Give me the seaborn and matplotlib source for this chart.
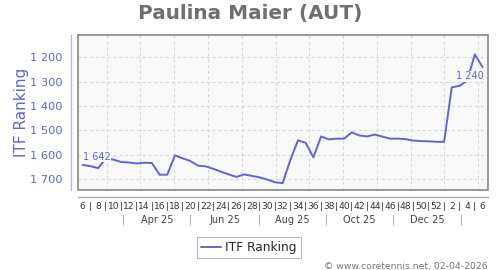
import matplotlib
matplotlib.use("Agg")
import matplotlib.pyplot as plt
from matplotlib.patches import Rectangle
import seaborn as sns
import pandas as pd

# ---- data ----
week_numbers = [6, 7, 8, 9, 10, 11, 12, 13, 14, 15, 16, 17, 18, 19, 20, 21, 22, 23, 24, 25,
                26, 27, 28, 29, 30, 31, 32, 33, 34, 35, 36, 37, 38, 39, 40, 41, 42, 43, 44, 45,
                46, 47, 48, 49, 50, 51, 52, 1, 2, 3, 4, 5, 6]
itf_ranking = [1642, 1647, 1655, 1616, 1620, 1630, 1632, 1636, 1633, 1634,
               1682, 1682, 1603, 1615, 1626, 1645, 1648, 1658, 1670, 1681,
               1691, 1681, 1687, 1693, 1702, 1713, 1717, 1622, 1541, 1551,
               1611, 1525, 1537, 1534, 1534, 1508, 1521, 1525, 1517, 1526,
               1534, 1534, 1536, 1542, 1544, 1545, 1547, 1547, 1323, 1317,
               1296, 1188, 1240]
month_labels = ["Apr 25", "Jun 25", "Aug 25", "Oct 25", "Dec 25"]
y_ticks = [1200, 1300, 1400, 1500, 1600, 1700]
title = "Paulina Maier (AUT)"
series_name = "ITF Ranking"
footer = "\u00a9 www.coretennis.net, 02-04-2026"

# ---- styling ----
LINE = "#6464CC"
BG = "#F8F8F8"

sns.set_theme(style="white", rc={"axes.facecolor": BG})
plt.rcParams["font.family"] = ["DejaVu Sans"]

df = pd.DataFrame({"idx": range(len(itf_ranking)), "rank": itf_ranking})

fig = plt.figure(figsize=(5, 2.7), dpi=100)
ax = fig.add_axes([0.156, 0.2963, 0.8194, 0.5741])
ax.set_facecolor(BG)

sns.lineplot(data=df, x="idx", y="rank", ax=ax, color=LINE, linewidth=1.4,
             label=series_name, legend=False)

ax.set_xlim(-0.61, 52.67)
ax.set_ylim(1745, 1108)

# grid
ax.set_yticks(y_ticks)
ax.set_yticklabels([f"{v:,}".replace(",", " ") for v in y_ticks])
for v in y_ticks:
    ax.axhline(v, color="#D6D6D6", lw=0.7, ls=(0, (3, 3)), zorder=0)
for k in range(12):
    ax.axvline(3.12 + 4.393 * k, color="#D6D6D6", lw=0.7, ls=(0, (3, 3)), zorder=0)

# x ticks: week numbers
ax.set_xticks(range(len(week_numbers)))
ax.set_xticklabels([str(w) if w % 2 == 0 else "|" for w in week_numbers])
ax.tick_params(axis="x", length=0, pad=4, labelsize=6.6, colors="#333333")
ax.tick_params(axis="y", length=0, pad=6, labelsize=8.2, colors=LINE)
ax.set_xlabel("")
ax.set_ylabel(series_name, color=LINE, fontsize=11, labelpad=1)

# spines
for s in ["top", "right"]:
    ax.spines[s].set_visible(False)
ax.spines["left"].set_position(("outward", 5))
ax.spines["left"].set_color("#B4B4E0")
ax.spines["left"].set_linewidth(1.0)
ax.spines["bottom"].set_position(("outward", 5))
ax.spines["bottom"].set_color("#AAAAAA")
ax.spines["bottom"].set_linewidth(1.0)
ax.add_patch(Rectangle((0, 0), 1, 1, transform=ax.transAxes, fill=False,
                       edgecolor="#888888", lw=1.2, clip_on=False, zorder=5))

# month row
seps = [5.28, 14.04, 22.93, 31.64, 40.39, 49.19]
tr = ax.get_xaxis_transform()
for s in seps:
    ax.text(s, -0.195, "|", transform=tr, ha="center", va="center",
            fontsize=7, color="#999999")
for i, lab in enumerate(month_labels):
    ax.text((seps[i] + seps[i + 1]) / 2, -0.195, lab, transform=tr,
            ha="center", va="center", fontsize=7, color="#444444")

# point labels
first, last = itf_ranking[0], itf_ranking[-1]
ax.annotate(f"{first:,}".replace(",", " "), (0, first), xytext=(0, 8),
            textcoords="offset pixels", ha="left", va="center", fontsize=7,
            color=LINE, bbox=dict(facecolor=BG, edgecolor="none", pad=0.3))
ax.annotate(f"{last:,}".replace(",", " "), (len(itf_ranking) - 1, last),
            xytext=(1, -9), textcoords="offset pixels", ha="right", va="center",
            fontsize=7, color=LINE,
            bbox=dict(facecolor=BG, edgecolor="none", pad=0.3))

# title
fig.text(0.5, 1 - 13 / 270, title, ha="center", va="center", fontsize=14.4,
         fontweight="bold", color="#707070")

# legend
handle = plt.Line2D([], [], color=LINE, lw=1.4)
leg = fig.legend([handle], [series_name], loc="center", bbox_to_anchor=(0.498, 0.084),
                 fontsize=8.8, frameon=True, fancybox=False, handlelength=1.6,
                 handletextpad=0.4, borderpad=0.35, borderaxespad=0,
                 facecolor="white")
leg.get_frame().set_edgecolor("#AAAAAA")
leg.get_frame().set_linewidth(0.8)

# footer
fig.text(0.975, 1 - 266.5 / 270, footer, ha="right", va="center", fontsize=6.7,
         color="#777777")

fig.savefig("out.png", dpi=100, facecolor="white")
